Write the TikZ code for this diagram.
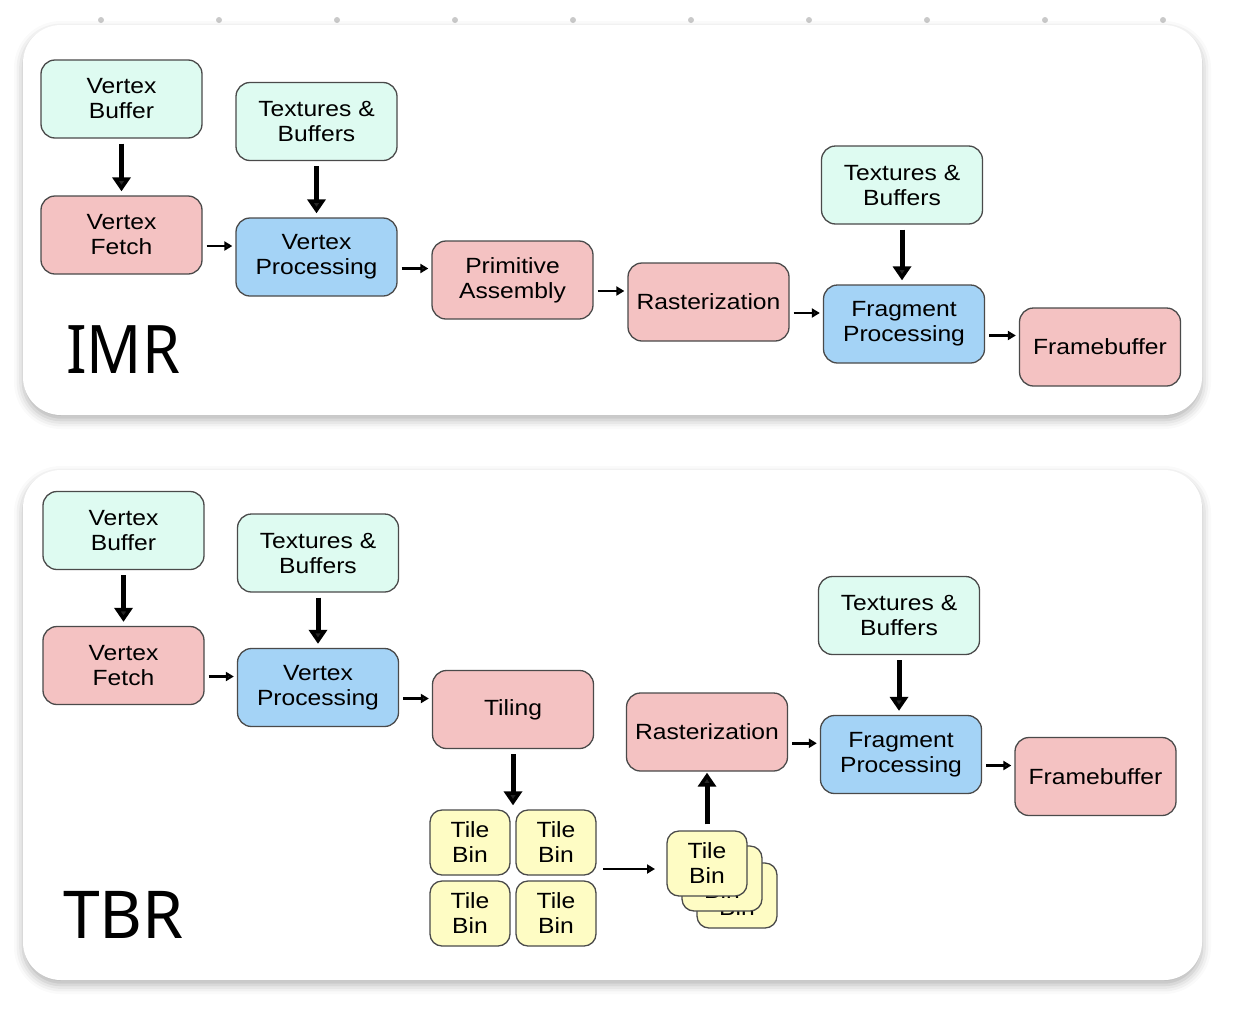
\documentclass[tikz,border=0pt]{standalone}
\usepackage{fontspec}
\setmainfont{Liberation Sans}
\newfontfamily\boxfont[FakeStretch=1.12]{Liberation Sans}
\newfontfamily\bigfont{Noto Sans}
\newfontfamily\bigfontn[FakeStretch=0.91]{Noto Sans}
\usetikzlibrary{arrows.meta,shadows.blur,calc}
\definecolor{mint}{HTML}{DEFBF1}
\definecolor{pinkc}{HTML}{F4C2C2}
\definecolor{bluec}{HTML}{A4D3F6}
\definecolor{tiley}{HTML}{FEFCC4}
\definecolor{edgec}{HTML}{4A4A4A}
\definecolor{dotc}{HTML}{C9C9C9}
\tikzset{
  box/.style={draw=edgec, line width=1.3pt, rounded corners=14pt, minimum width=161pt,
    minimum height=78pt, inner sep=0pt, align=center,
    font=\boxfont\fontsize{22}{25}\selectfont, text=black},
  inbox/.style={box, fill=mint},
  fixbox/.style={box, fill=pinkc},
  progbox/.style={box, fill=bluec},
  tilebox/.style={box, fill=tiley, minimum width=80pt, minimum height=65pt, rounded corners=12pt},
  varrow/.style={-{Triangle[width=18pt,length=14pt]}, line width=5pt, shorten <=5pt, shorten >=4pt},
  harrow/.style={-{Triangle[width=9pt,length=8pt]}, line width=2.6pt, shorten <=4pt, shorten >=3pt},
  panel/.style={fill=white, rounded corners=38pt,
    blur shadow={shadow xshift=0pt, shadow yshift=-5pt, shadow blur radius=9pt, shadow opacity=30}},
  biglabel/.style={anchor=base west, inner sep=0pt}
}
\begin{document}
\begin{tikzpicture}[x=1pt,y=-1pt]
\useasboundingbox (0,0) rectangle (1238,1012);
% dots
\foreach \i in {0,...,9} \fill[dotc] (101+118*\i,20) circle (3pt);
% panels
\path[panel] (23,25) rectangle (1202,415);
\path[panel] (23,470) rectangle (1202,980);

% ---------- IMR ----------
\node[inbox]   (vb1) at (121.5,99)  {Vertex\\Buffer};
\node[fixbox]  (vf1) at (121.5,235) {Vertex\\Fetch};
\node[inbox]   (tb1) at (316.5,121.5) {Textures \&\\Buffers};
\node[progbox] (vp1) at (316.5,257) {Vertex\\Processing};
\node[fixbox]  (pa1) at (512.5,280) {Primitive\\Assembly};
\node[fixbox]  (ra1) at (708.5,302) {Rasterization};
\node[inbox]   (tb2) at (902,185)   {Textures \&\\Buffers};
\node[progbox] (fp1) at (904,324)   {Fragment\\Processing};
\node[fixbox]  (fb1) at (1100,347)  {Framebuffer};
\node[biglabel, font=\bigfontn\fontsize{67}{67}\selectfont] (imr) at (66,373) {IMR};

\draw[varrow] (vb1.south) -- (vf1.north);
\draw[varrow] (tb1.south) -- (vp1.north);
\draw[varrow] (tb2.south) -- (tb2.south |- fp1.north);
\path ($(vf1.east)!.5!(vp1.west)$) coordinate (m1)
      ($(vp1.east)!.5!(pa1.west)$) coordinate (m2)
      ($(pa1.east)!.5!(ra1.west)$) coordinate (m3)
      ($(ra1.east)!.5!(fp1.west)$) coordinate (m4)
      ($(fp1.east)!.5!(fb1.west)$) coordinate (m5);
\draw[harrow] (vf1.east |- m1) -- (vp1.west |- m1);
\draw[harrow] (vp1.east |- m2) -- (pa1.west |- m2);
\draw[harrow] (pa1.east |- m3) -- (ra1.west |- m3);
\draw[harrow] (ra1.east |- m4) -- (fp1.west |- m4);
\draw[harrow] (fp1.east |- m5) -- (fb1.west |- m5);

% ---------- TBR ----------
\node[inbox]   (vb2) at (123.5,530.5) {Vertex\\Buffer};
\node[fixbox]  (vf2) at (123.5,665.5) {Vertex\\Fetch};
\node[inbox]   (tb3) at (318,553)     {Textures \&\\Buffers};
\node[progbox] (vp2) at (318,687.5)   {Vertex\\Processing};
\node[fixbox]  (ti2) at (513,709.5)   {Tiling};
\node[fixbox]  (ra2) at (707,732)     {Rasterization};
\node[inbox]   (tb4) at (899,615.5)   {Textures \&\\Buffers};
\node[progbox] (fp2) at (901,754.5)   {Fragment\\Processing};
\node[fixbox]  (fb2) at (1095.5,776.5) {Framebuffer};
\node[biglabel, font=\bigfont\fontsize{66}{66}\selectfont] (tbr) at (63,938) {TBR};

\node[tilebox] (tA) at (470,842.5) {Tile\\Bin};
\node[tilebox] (tB) at (556,842.5) {Tile\\Bin};
\node[tilebox] (tC) at (470,913.5) {Tile\\Bin};
\node[tilebox] (tD) at (556,913.5) {Tile\\Bin};
\node[tilebox] (s3) at (737,895.5) {Tile\\Bin};
\node[tilebox] (s2) at (722,878.5) {Tile\\Bin};
\node[tilebox] (s1) at (707,863.5) {Tile\\Bin};

\draw[varrow] (vb2.south) -- (vf2.north);
\draw[varrow] (tb3.south) -- (vp2.north);
\draw[varrow] (tb4.south) -- (tb4.south |- fp2.north);
\draw[varrow] (ti2.south) -- (ti2.south |- tA.north);
\draw[varrow, shorten <=6pt, shorten >=1pt] (s1.north) -- (ra2.south);
\path ($(vf2.east)!.5!(vp2.west)$) coordinate (n1)
      ($(vp2.east)!.5!(ti2.west)$) coordinate (n2)
      ($(ra2.east)!.5!(fp2.west)$) coordinate (n4)
      ($(fp2.east)!.5!(fb2.west)$) coordinate (n5);
\draw[harrow] (vf2.east |- n1) -- (vp2.west |- n1);
\draw[harrow] (vp2.east |- n2) -- (ti2.west |- n2);
\draw[harrow] (ra2.east |- n4) -- (fp2.west |- n4);
\draw[harrow] (fp2.east |- n5) -- (fb2.west |- n5);
\coordinate (gout) at (603,869);
\coordinate (sin) at (655,869);
\draw[harrow, shorten <=0pt, shorten >=0pt] (gout) -- (sin);
\end{tikzpicture}
\end{document}
